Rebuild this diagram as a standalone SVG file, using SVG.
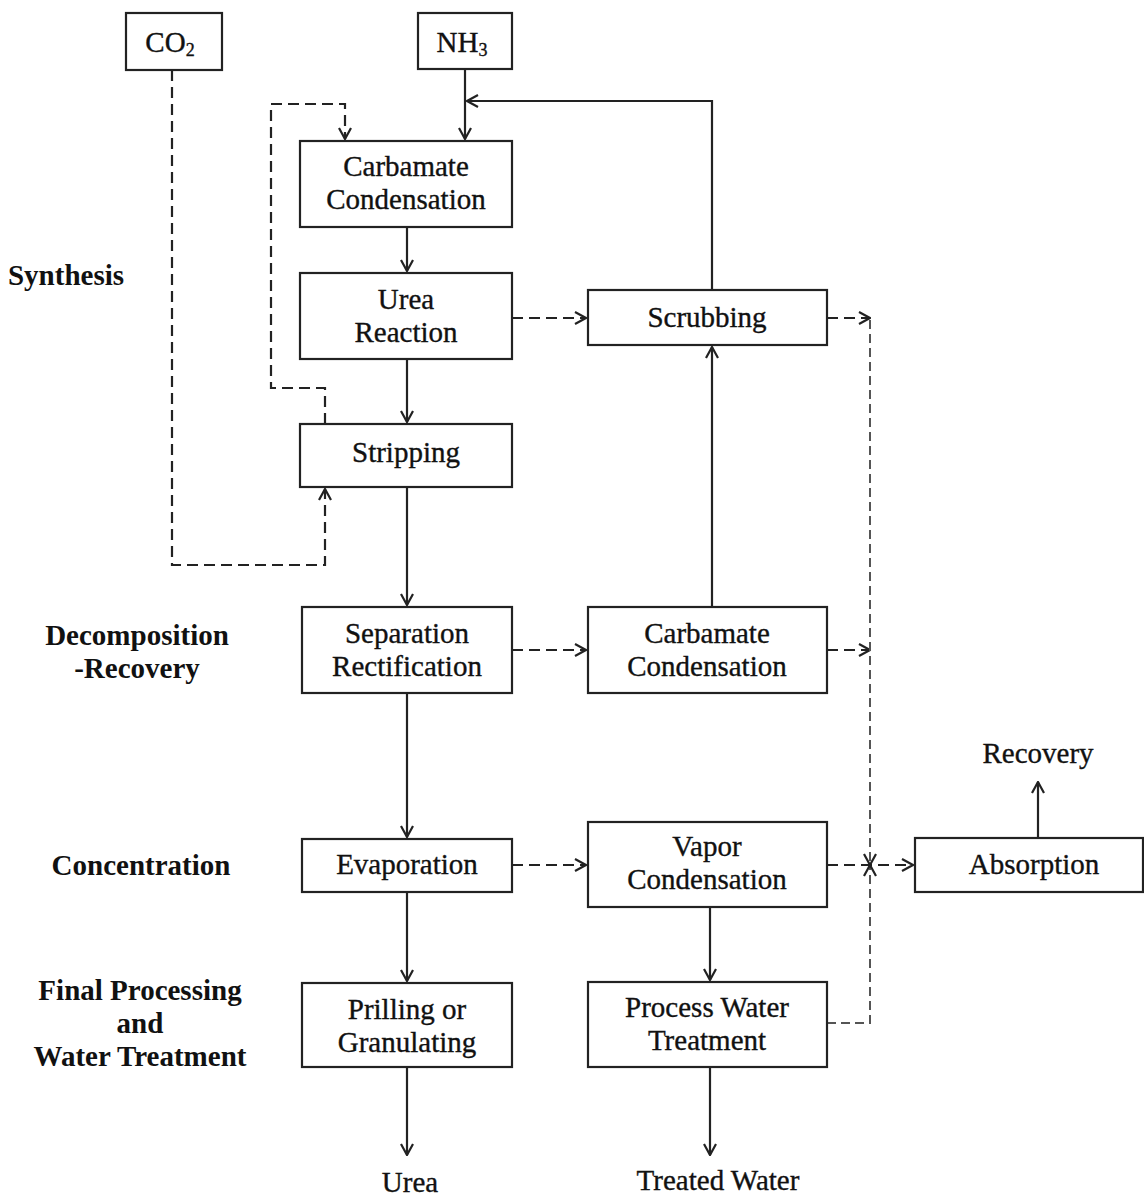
<svg xmlns="http://www.w3.org/2000/svg" width="1144" height="1196" viewBox="0 0 1144 1196">
<style>
.box{fill:#fff;stroke:#222;stroke-width:2.2}
.t{font-family:"Liberation Serif","Times New Roman",serif;font-size:29px;fill:#111;stroke:#111;stroke-width:0.35;text-anchor:middle}
.lb{font-family:"Liberation Serif","Times New Roman",serif;font-size:29px;font-weight:bold;fill:#111;text-anchor:middle}
.s{fill:none;stroke:#222;stroke-width:2.2}
.d{fill:none;stroke:#222;stroke-width:2.2;stroke-dasharray:11 6}
.dl{fill:none;stroke:#555;stroke-width:2;stroke-dasharray:9 5}
</style>
<defs>
<marker id="a" viewBox="0 0 14 14" refX="13" refY="7" markerWidth="14" markerHeight="14" markerUnits="userSpaceOnUse" orient="auto">
<path d="M2,1 L13,7 L2,13" fill="none" stroke="#222" stroke-width="2.2" stroke-dasharray="none"/>
</marker>
</defs>
<rect width="1144" height="1196" fill="#fff"/>

<g id="labels">
<text class="lb" x="66" y="285">Synthesis</text>
<text class="lb" x="137" y="645">Decomposition</text>
<text class="lb" x="137" y="678">-Recovery</text>
<text class="lb" x="141" y="875">Concentration</text>
<text class="lb" x="140" y="1000">Final Processing</text>
<text class="lb" x="140" y="1033">and</text>
<text class="lb" x="140" y="1066">Water Treatment</text>
</g>

<g id="connectors">
<path class="s" d="M465,69 V139" marker-end="url(#a)"/>
<path class="s" d="M712,290 V101 H467" marker-end="url(#a)"/>
<path class="s" d="M407,227 V271" marker-end="url(#a)"/>
<path class="s" d="M407,359 V422" marker-end="url(#a)"/>
<path class="s" d="M407,487 V605" marker-end="url(#a)"/>
<path class="s" d="M407,693 V837" marker-end="url(#a)"/>
<path class="s" d="M407,892 V981" marker-end="url(#a)"/>
<path class="s" d="M407,1067 V1155" marker-end="url(#a)"/>
<path class="s" d="M712,607 V347" marker-end="url(#a)"/>
<path class="s" d="M710,907 V980" marker-end="url(#a)"/>
<path class="s" d="M710,1067 V1155" marker-end="url(#a)"/>
<path class="s" d="M1038,838 V782" marker-end="url(#a)"/>
<path class="d" d="M172,70 V565 H325 V489" marker-end="url(#a)"/>
<path class="d" d="M325,424 V388 H271 V104 H345 V139" marker-end="url(#a)"/>
<path class="d" d="M512,318 H586" marker-end="url(#a)"/>
<path class="d" d="M512,650 H586" marker-end="url(#a)"/>
<path class="d" d="M512,865 H586" marker-end="url(#a)"/>
<path class="d" d="M827,318 H870" marker-end="url(#a)"/>
<path class="d" d="M827,650 H870" marker-end="url(#a)"/>
<path class="d" d="M827,865 H913" marker-end="url(#a)"/>
<path class="dl" d="M870,320 V865" marker-end="url(#a)"/>
<path class="dl" d="M827,1023 H870 V865" marker-end="url(#a)"/>
</g>

<g id="co2"><rect class="box" x="126" y="13" width="96" height="57"/><text class="t" x="170" y="52">CO<tspan font-size="18" dy="4">2</tspan></text></g>
<g id="nh3"><rect class="box" x="418" y="13" width="94" height="56"/><text class="t" x="462" y="52">NH<tspan font-size="18" dy="4">3</tspan></text></g>
<g id="carbamate1"><rect class="box" x="300" y="141" width="212" height="86"/><text class="t" x="406" y="176">Carbamate</text><text class="t" x="406" y="209">Condensation</text></g>
<g id="urea-reaction"><rect class="box" x="300" y="273" width="212" height="86"/><text class="t" x="406" y="309">Urea</text><text class="t" x="406" y="342">Reaction</text></g>
<g id="stripping"><rect class="box" x="300" y="424" width="212" height="63"/><text class="t" x="406" y="462">Stripping</text></g>
<g id="separation"><rect class="box" x="302" y="607" width="210" height="86"/><text class="t" x="407" y="643">Separation</text><text class="t" x="407" y="676">Rectification</text></g>
<g id="evaporation"><rect class="box" x="302" y="839" width="210" height="53"/><text class="t" x="407" y="874">Evaporation</text></g>
<g id="prilling"><rect class="box" x="302" y="983" width="210" height="84"/><text class="t" x="407" y="1019">Prilling or</text><text class="t" x="407" y="1052">Granulating</text></g>
<g id="scrubbing"><rect class="box" x="588" y="290" width="239" height="55"/><text class="t" x="707" y="327">Scrubbing</text></g>
<g id="carbamate2"><rect class="box" x="588" y="607" width="239" height="86"/><text class="t" x="707" y="643">Carbamate</text><text class="t" x="707" y="676">Condensation</text></g>
<g id="vapor"><rect class="box" x="588" y="822" width="239" height="85"/><text class="t" x="707" y="856">Vapor</text><text class="t" x="707" y="889">Condensation</text></g>
<g id="water-treatment"><rect class="box" x="588" y="982" width="239" height="85"/><text class="t" x="707" y="1017">Process Water</text><text class="t" x="707" y="1050">Treatment</text></g>
<g id="absorption"><rect class="box" x="915" y="838" width="228" height="54"/><text class="t" x="1034" y="874">Absorption</text></g>
<g id="outputs">
<text class="t" x="410" y="1192">Urea</text>
<text class="t" x="718" y="1190">Treated Water</text>
<text class="t" x="1038" y="763">Recovery</text>
</g>
</svg>
